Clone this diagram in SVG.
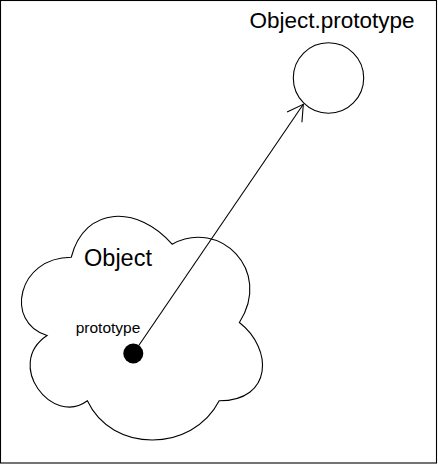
<svg xmlns="http://www.w3.org/2000/svg" width="438" height="464" viewBox="0 0 438 464">
<defs>
<style>
.shape{fill:#fff;stroke:#000;stroke-width:1.1}
.lbl{font-family:"Liberation Sans",Arial,sans-serif;fill:#000}
.edge{fill:none;stroke:#000;stroke-width:1.1}
</style>
<marker id="open" markerUnits="userSpaceOnUse" markerWidth="24" markerHeight="24" viewBox="-20 -12 24 24" refX="0" refY="0" orient="auto">
<path d="M -15.6,-9 L 0,0 L -15.6,9" fill="none" stroke="#000" stroke-width="1.1"/>
</marker>
</defs>
<rect x="0.5" y="0.5" width="436" height="462.5" fill="#fff" stroke="#000" stroke-width="1.1"/>
<g id="object-prototype">
<circle class="shape" cx="328.5" cy="78" r="35.2"/>
<text class="lbl" x="332" y="28" font-size="22.5" text-anchor="middle">Object.prototype</text>
</g>
<g id="object">
<path class="shape" d="M71.25,257.25 C17.45,257.25 4,322.5 47.04,335.55 C4,364.26 52.42,426.9 87.39,400.8 C111.6,453 192.3,453 219.2,400.8 C273,400.8 273,348.6 239.375,322.5 C273,270.3 219.2,218.1 172.125,244.2 C138.5,205.05 84.7,205.05 71.25,257.25 Z"/>
<text class="lbl" x="118" y="266" font-size="23.5" text-anchor="middle">Object</text>
<text class="lbl" x="108" y="333" font-size="15.5" text-anchor="middle">prototype</text>
</g>
<g id="connectors">
<path class="edge" d="M133.3,353.5 L303.3,104.3" marker-end="url(#open)"/>
<circle id="prototype-dot" cx="133.3" cy="353.5" r="10" fill="#000"/>
</g>
</svg>
